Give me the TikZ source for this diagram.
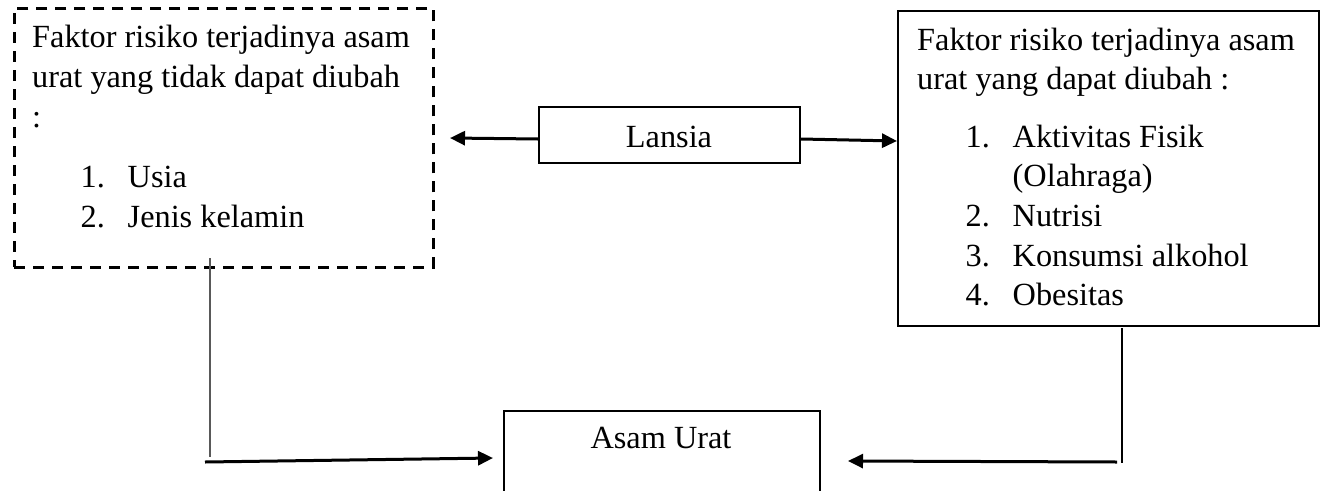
\documentclass[tikz,border=0pt]{standalone}
\usepackage{fontspec}
\setmainfont{Liberation Serif}
\usetikzlibrary{arrows.meta}
\tikzset{
  txt/.style={font=\fontsize{32.3pt}{40pt}\selectfont, inner sep=0pt},
  dashbox/.style={draw, line width=2.8pt, dash pattern=on 11pt off 8pt, inner sep=0pt, anchor=north west},
  solidbox/.style={draw, line width=2pt, inner sep=0pt, anchor=north west},
  arr/.style={line width=3pt, -{Triangle[length=15pt,width=14pt]}},
  thin/.style={line width=1.2pt},
}
\newcommand{\itm}[2]{\hbox{\hspace*{48.5pt}\makebox[47pt][l]{#1}#2}}
\begin{document}
\begin{tikzpicture}[x=1pt,y=-1pt]
\useasboundingbox (0,0) rectangle (1322,490);
\clip (0,0) rectangle (1322,490);
% boxes
\node[dashbox, minimum width=419pt, minimum height=259pt] (L) at (13,7) {};
\node[solidbox, minimum width=261pt, minimum height=56pt] (N) at (538,106) {};
\node[solidbox, line width=2.3pt, minimum width=421pt, minimum height=315pt] (R) at (897,10) {};
\node[solidbox, minimum width=316pt, minimum height=130pt] (A) at (503,410) {};
% texts
\node[txt, anchor=base west] (Ltxt) at (32,47) {\vtop{\baselineskip=40pt
  \hbox{Faktor risiko terjadinya asam}
  \hbox{urat yang tidak dapat diubah}
  \hbox{:}
  \vskip20pt
  \itm{1.}{Usia}
  \itm{2.}{Jenis kelamin}}};
\node[txt, anchor=base west] (Rtxt) at (917,50) {\vtop{\baselineskip=39.6pt
  \hbox{Faktor risiko terjadinya asam}
  \hbox{urat yang dapat diubah :}
  \vskip18pt
  \itm{1.}{Aktivitas Fisik}
  \itm{}{(Olahraga)}
  \itm{2.}{Nutrisi}
  \itm{3.}{Konsumsi alkohol}
  \itm{4.}{Obesitas}}};
\node[txt, anchor=base] (Ntxt) at (669,147) {Lansia};
\node[txt, anchor=base] (Atxt) at (661,448) {Asam Urat};
% free ends
\coordinate (la) at (450,138);
\coordinate (ra) at (897,141);
\coordinate (lv1) at (210,258);
\coordinate (lv2) at (210,457);
\coordinate (lh1) at (205,462);
\coordinate (lh2) at (493,458);
\coordinate (rv1) at (1122,328);
\coordinate (rv2) at (1122,463);
\coordinate (rh1) at (1117,462);
\coordinate (rh2) at (848,461);
% connectors
\draw[arr] ([yshift=-4pt]N.west) -- (la);
\draw[arr] ([yshift=-4pt]N.east) -- (ra);
\draw[thin, draw=black!65] (lv1) -- (lv2);
\draw[arr] (lh1) -- (lh2);
\draw[thin] (rv1) -- (rv2);
\draw[arr] (rh1) -- (rh2);
\end{tikzpicture}
\end{document}
